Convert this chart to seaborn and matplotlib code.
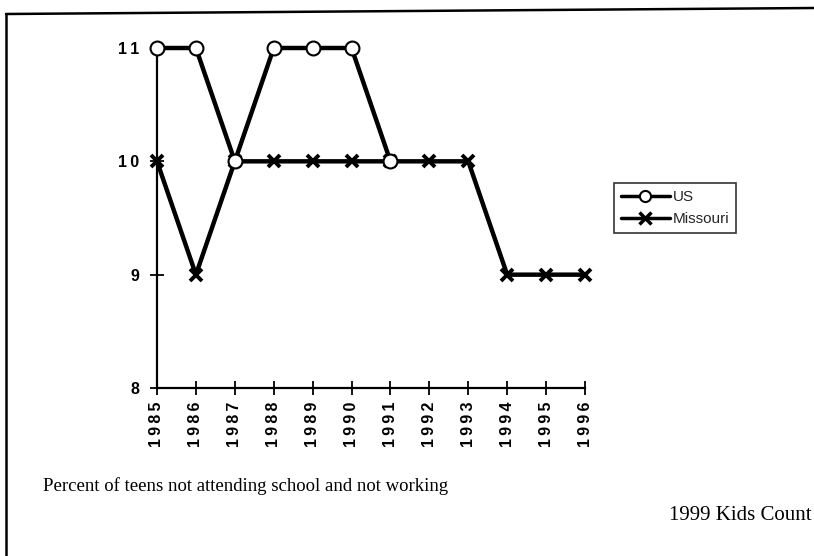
import matplotlib
matplotlib.use("Agg")
import matplotlib.pyplot as plt
import seaborn as sns
import numpy as np
import pandas as pd
from matplotlib.lines import Line2D

years = [1985, 1986, 1987, 1988, 1989, 1990, 1991, 1992, 1993, 1994, 1995, 1996]
us = [11, 11, 10, 11, 11, 11, 10, np.nan, np.nan, np.nan, np.nan, np.nan]
missouri = [10, 9, 10, 10, 10, 10, 10, 10, 10, 9, 9, 9]
y_ticks = [8, 9, 10, 11]
caption = "Percent of teens not attending school and not working"
source = "1999 Kids Count"

sns.set_theme(style="white")
plt.rcParams['font.family'] = ['Liberation Sans', 'DejaVu Sans']

df = pd.DataFrame({"year": years, "US": us, "Missouri": missouri})


def spaced(v):
    return "\u2009".join(str(v))


fig = plt.figure(figsize=(8.14, 5.56), dpi=100)
ax = fig.add_axes([157/814, 1-388/556, (585-157)/814, (388-48)/556])

sns.lineplot(data=df, x="year", y="Missouri", ax=ax, color="black", lw=3.2,
             marker="x", markersize=9, markeredgewidth=2.8,
             markeredgecolor="black", zorder=3)
sns.lineplot(data=df.dropna(), x="year", y="US", ax=ax, color="black", lw=3.2,
             marker="o", markersize=10, markerfacecolor="white",
             markeredgecolor="black", markeredgewidth=1.5, zorder=4)

ax.set_xlim(years[0], years[-1])
ax.set_ylim(8, 11)
ax.set_xticks(years)
ax.set_xticklabels([spaced(y) for y in years], rotation=90, fontweight="bold", fontsize=11.5)
ax.set_yticks(y_ticks)
ax.set_yticklabels([spaced(v) for v in y_ticks], fontweight="bold", fontsize=11.5)
ax.set_xlabel("")
ax.set_ylabel("")
for s in ["top", "right"]:
    ax.spines[s].set_visible(False)
for s in ["left", "bottom"]:
    ax.spines[s].set_color("black")
    ax.spines[s].set_linewidth(1.6)
ax.tick_params(axis="both", which="both", direction="inout", length=10, width=1.3,
               colors="black", left=True, bottom=True, pad=8)
ax.tick_params(axis="x", pad=5)
ax.set_facecolor("white")
ax.patch.set_alpha(0)
for ln in ax.lines:
    ln.set_clip_on(False)

handles = [
    Line2D([], [], color="black", lw=2.5, marker="o", markersize=8,
           markerfacecolor="white", markeredgecolor="black", markeredgewidth=1.5),
    Line2D([], [], color="black", lw=2.5, marker="x", markersize=8,
           markeredgecolor="black", markeredgewidth=2.5),
]
leg = fig.legend(handles, ["US", "Missouri"], loc="upper left",
                 bbox_to_anchor=(614/814, 1-183/556), frameon=True, fancybox=False,
                 edgecolor="black", fontsize=11, handlelength=3.2, handletextpad=0.2,
                 borderpad=0.45, labelspacing=0.55, borderaxespad=0)
leg.get_frame().set_linewidth(1.2)

fig.text(43/814, 1-486/556, caption, family="Liberation Serif", fontsize=13.5,
         ha="left", va="center", color="black")
fig.text(812/814, 1-516/556, source, family="Liberation Serif", fontsize=15,
         ha="right", va="center", color="black")

# page frame lines
fig.add_artist(Line2D([6/814, 1.0], [1-14/556, 1-8/556], color="black", lw=1.8,
                      transform=fig.transFigure))
fig.add_artist(Line2D([6/814, 6/814], [0, 1-14/556], color="black", lw=1.8,
                      transform=fig.transFigure))

fig.savefig("out.png", dpi=100, facecolor="white")
